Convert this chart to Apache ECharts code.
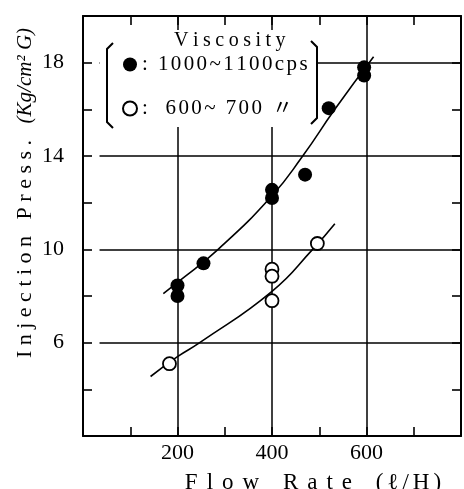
<!DOCTYPE html>
<html>
<head>
<meta charset="utf-8">
<script src="https://cdn.jsdelivr.net/npm/echarts@6/dist/echarts.min.js"></script>
<style>html,body{margin:0;padding:0;background:#fff}#c{width:464px;height:489px}</style>
</head>
<body>
<div id="c"></div>
<script>
// ---- data ----
var highViscName = '1000~1100cps';
var lowViscName = '600~ 700 〃';
var highFlow = [200, 200, 255, 400, 400, 470, 520, 595, 595];
var highPress = [8.45, 8.0, 9.4, 12.55, 12.2, 13.2, 16.05, 17.8, 17.45];
var lowFlow = [183, 400, 400, 400, 496];
var lowPress = [5.1, 9.15, 8.85, 7.8, 10.25];
var highFitFlow = [170, 200, 286, 400, 465, 533, 615];
var highFitPress = [8.1, 8.58, 10.0, 12.3, 14.0, 16.0, 18.25];
var lowFitFlow = [143, 200, 247, 400, 486, 533];
var lowFitPress = [4.55, 5.4, 6.0, 8.2, 10.0, 11.1];
var xLabels = [200, 400, 600];
var yLabels = [6, 10, 14, 18];
var xTitle = 'Flow Rate';
var xUnit = '(ℓ/H)';
var yTitle = 'Injection Press.';
var yUnit = '(Kg/cm² G)';
var legendTitle = 'Viscosity';

function zip(a, b) { return a.map(function (v, i) { return [v, b[i]]; }); }
function spaced(str, key) {
  return str.split('').map(function (c) { return '{' + key + '|' + c + '}'; }).join('');
}
var SERIF = '"Liberation Serif", "Noto Sans CJK JP", serif';

var chart = echarts.init(document.getElementById('c'), null, { renderer: 'canvas' });

var tickCommon = { show: true, inside: true, length: 9, lineStyle: { color: '#000', width: 1.6 } };
var axisLineCommon = { show: true, onZero: false, lineStyle: { color: '#000', width: 2 } };

var gridLines = [];
xLabels.forEach(function (v) { gridLines.push({ xAxis: v }); });
yLabels.forEach(function (v) { gridLines.push([{ coord: [35, v] }, { coord: [800, v] }]); });

var option = {
  animation: false,
  backgroundColor: '#fff',
  grid: { left: 83, right: -12, top: 16, bottom: 53, containLabel: false },
  xAxis: [
    {
      type: 'value', position: 'bottom', min: 0, max: 800, interval: 100,
      axisLine: axisLineCommon, axisTick: tickCommon, splitLine: { show: false },
      axisLabel: {
        color: '#000', fontFamily: SERIF, fontSize: 22, margin: 6,
        formatter: function (v) { return xLabels.indexOf(v) >= 0 ? String(v) : ''; }
      }
    },
    {
      type: 'value', position: 'top', min: 0, max: 800, interval: 100,
      axisLine: axisLineCommon, axisTick: tickCommon, splitLine: { show: false },
      axisLabel: { show: false }
    }
  ],
  yAxis: [
    {
      type: 'value', position: 'left', min: 2, max: 20, interval: 2,
      axisLine: axisLineCommon, axisTick: tickCommon, splitLine: { show: false },
      axisLabel: {
        color: '#000', fontFamily: SERIF, fontSize: 22, margin: 19,
        formatter: function (v) { return yLabels.indexOf(v) >= 0 ? String(v) : ''; }
      }
    },
    {
      type: 'value', position: 'right', min: 2, max: 20, interval: 2,
      axisLine: axisLineCommon, axisTick: tickCommon, splitLine: { show: false },
      axisLabel: { show: false }
    }
  ],
  legend: {
    data: [highViscName, lowViscName],
    orient: 'vertical', left: 100, top: 30, z: 20,
    padding: [24, 10, 8, 22],
    itemGap: 23, itemWidth: 14, itemHeight: 14,
    backgroundColor: '#fff',
    textStyle: {
      color: '#000', fontFamily: SERIF, fontSize: 21,
      rich: { t: { fontFamily: SERIF, fontSize: 21, padding: [0, 2.4, 0, 0], color: '#000' } }
    },
    formatter: function (name) { return spaced((name === lowViscName ? ':  ' : ': ') + name, 't'); }
  },
  graphic: [
    {
      type: 'text', z: 100, x: 232, y: 41,
      style: {
        text: spaced(legendTitle, 'v'),
        rich: { v: { fontFamily: SERIF, fontSize: 20, padding: [0, 4.5, 0, 0], fill: '#000' } },
        align: 'center', verticalAlign: 'middle'
      }
    },
    {
      type: 'polyline', z: 100,
      shape: { points: [[113, 43], [107, 49], [107, 122], [113, 128]] },
      style: { stroke: '#000', lineWidth: 2, fill: null }
    },
    {
      type: 'polyline', z: 100,
      shape: { points: [[311, 41], [317, 47], [317, 118], [311, 124]] },
      style: { stroke: '#000', lineWidth: 2, fill: null }
    },
    {
      type: 'text', z: 100, x: 25, y: 193, rotation: Math.PI / 2,
      style: {
        text: spaced(yTitle, 's') + '{s| }{u|' + yUnit + '}',
        rich: {
          s: { fontFamily: SERIF, fontSize: 22, padding: [0, 5.5, 0, 0], fill: '#000' },
          u: { fontFamily: SERIF, fontSize: 21, fontStyle: 'italic', fill: '#000' }
        },
        align: 'center', verticalAlign: 'middle'
      }
    },
    {
      type: 'text', z: 100, x: 315, y: 483,
      style: {
        text: spaced(xTitle, 's') + '{s| }' + spaced(xUnit, 'u'),
        rich: {
          s: { fontFamily: SERIF, fontSize: 23, padding: [0, 9, 0, 0], fill: '#000' },
          u: { fontFamily: SERIF, fontSize: 23, padding: [0, 4, 0, 0], fill: '#000' }
        },
        align: 'center', verticalAlign: 'middle'
      }
    }
  ],
  series: [
    {
      name: 'grid', type: 'line', data: [], silent: true,
      markLine: {
        silent: true, z: 1, symbol: ['none', 'none'], label: { show: false },
        lineStyle: { color: '#000', width: 1.5, type: 'solid' },
        emphasis: { disabled: true },
        data: gridLines
      }
    },
    {
      name: 'fitHigh', type: 'line', smooth: true, symbol: 'none', silent: true,
      lineStyle: { color: '#000', width: 1.6 },
      data: zip(highFitFlow, highFitPress)
    },
    {
      name: 'fitLow', type: 'line', smooth: true, symbol: 'none', silent: true,
      lineStyle: { color: '#000', width: 1.6 },
      data: zip(lowFitFlow, lowFitPress)
    },
    {
      name: highViscName, type: 'scatter', symbol: 'circle', symbolSize: 14, z: 5,
      itemStyle: { color: '#000', borderColor: '#000', borderWidth: 0, opacity: 1 },
      data: zip(highFlow, highPress)
    },
    {
      name: lowViscName, type: 'scatter', symbol: 'circle', symbolSize: 13, z: 5,
      itemStyle: { color: '#fff', borderColor: '#000', borderWidth: 1.8, opacity: 1 },
      data: zip(lowFlow, lowPress)
    }
  ]
};
chart.setOption(option);
</script>
</body>
</html>
